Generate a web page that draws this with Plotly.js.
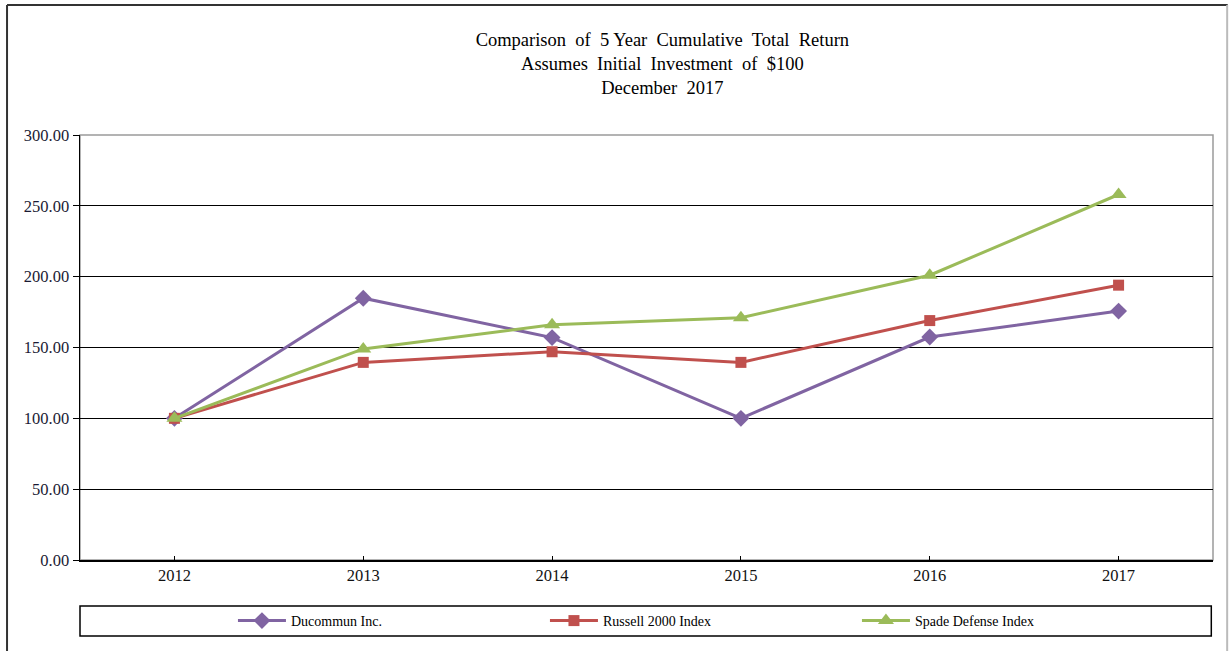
<!DOCTYPE html>
<html>
<head>
<meta charset="utf-8">
<script src="https://cdn.plot.ly/plotly-3.0.1.min.js"></script>
<style>html,body{margin:0;padding:0;background:#fff;}#chart{width:1229px;height:651px;}</style>
</head>
<body>
<div id="chart"></div>
<script>
const years = ['2012', '2013', '2014', '2015', '2016', '2017'];
const ducommun = [100.00, 184.8, 157.0, 100.0, 157.4, 175.7];
const russell = [100.00, 139.5, 147.0, 139.5, 169.0, 194.0];
const spade = [100.00, 149.0, 166.0, 171.0, 201.0, 258.0];
const yTicks = [0, 50, 100, 150, 200, 250, 300];

const serif = 'Liberation Serif, Times New Roman, serif';

function series(name, vals, color, symbol, size) {
  return {
    x: years, y: vals, name: name, type: 'scatter', mode: 'lines+markers',
    line: {color: color, width: 3},
    marker: {color: color, symbol: symbol, size: size},
    cliponaxis: false
  };
}

const data = [
  series('Ducommun Inc.', ducommun, '#8064A2', 'diamond', 13),
  series('Russell 2000 Index', russell, '#C0504D', 'square', 11),
  series('Spade Defense Index', spade, '#9BBB59', 'triangle-up', 14)
];

const layout = {
  width: 1229, height: 651,
  margin: {l: 80, r: 16, t: 135, b: 91, autoexpand: false},
  paper_bgcolor: '#fff', plot_bgcolor: '#fff',
  font: {family: serif, color: '#111'},
  title: {
    text: 'Comparison  of  5 Year  Cumulative  Total  Return<br>Assumes  Initial  Investment  of  $100<br>December  2017',
    font: {family: serif, size: 18.5, color: '#000'},
    x: 0.514, xref: 'paper', xanchor: 'center',
    y: 0.929, yref: 'container', yanchor: 'top'
  },
  xaxis: {
    type: 'category', range: [-0.5, 5.5], fixedrange: true,
    showgrid: false, zeroline: false,
    showline: true, linecolor: '#000', linewidth: 1.5,
    ticks: 'inside', ticklen: 4, tickcolor: '#000',
    tickfont: {family: serif, size: 16.5, color: '#111'}
  },
  yaxis: {
    range: [0, 300], tickvals: yTicks, tickformat: '.2f',
    showgrid: true, gridcolor: '#000', gridwidth: 1,
    zeroline: false, showline: true, linecolor: '#000', linewidth: 1.5,
    ticks: 'outside', ticklen: 6, tickcolor: '#000',
    tickfont: {family: serif, size: 16.5, color: '#1a1a33'}
  },
  showlegend: true,
  legend: {
    orientation: 'h', x: 0.135, xanchor: 'left', y: -0.1435, yanchor: 'middle',
    entrywidth: 249, entrywidthmode: 'pixels', itemwidth: 48,
    font: {family: serif, size: 14, color: '#000'},
    bgcolor: 'rgba(0,0,0,0)', borderwidth: 0
  },
  shapes: [
    {type: 'rect', xref: 'paper', yref: 'paper', x0: 0, x1: 1, y0: 0, y1: 1,
      line: {color: '#9a9a9a', width: 1.5}, layer: 'below'},
    {type: 'rect', xref: 'paper', yref: 'paper', x0: 0, x1: 0.9985, y0: -0.108, y1: -0.179,
      line: {color: '#000', width: 1.5}},
    {type: 'line', xref: 'paper', yref: 'paper', x0: -0.0644, x1: 1.013, y0: 1.306, y1: 1.306,
      line: {color: '#333', width: 2}},
    {type: 'line', xref: 'paper', yref: 'paper', x0: -0.0644, x1: -0.0644, y0: 1.306, y1: -0.22,
      line: {color: '#333', width: 2}},
    {type: 'line', xref: 'paper', yref: 'paper', x0: 1.0125, x1: 1.0125, y0: 1.306, y1: -0.22,
      line: {color: '#bbb', width: 2}}
  ]
};

Plotly.newPlot('chart', data, layout, {displayModeBar: false, staticPlot: true});
</script>
</body>
</html>
